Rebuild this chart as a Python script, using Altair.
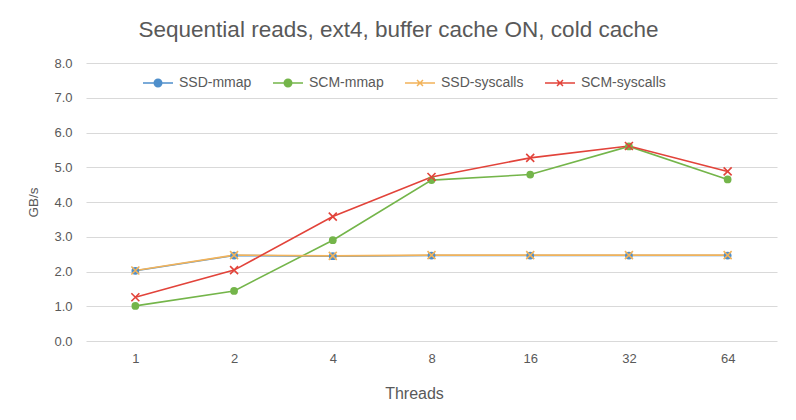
import altair as alt
import pandas as pd

threads = ["1", "2", "4", "8", "16", "32", "64"]
series_names = ["SSD-mmap", "SCM-mmap", "SSD-syscalls", "SCM-syscalls"]
ssd_mmap = [2.02, 2.46, 2.44, 2.46, 2.46, 2.46, 2.46]
scm_mmap = [1.01, 1.44, 2.90, 4.63, 4.79, 5.60, 4.65]
ssd_syscalls = [2.03, 2.47, 2.45, 2.47, 2.47, 2.47, 2.47]
scm_syscalls = [1.26, 2.04, 3.58, 4.72, 5.27, 5.61, 4.88]
colors = ["#4F8FCB", "#74B54A", "#F2B35A", "#E2433A"]
y_ticks = [0, 1, 2, 3, 4, 5, 6, 7, 8]

legend_paths = [
    "M-3,0H3M0.75,0A0.75,0.75,0,1,1,-0.75,0A0.75,0.75,0,1,1,0.75,0",
    "M-3,0H3M0.75,0A0.75,0.75,0,1,1,-0.75,0A0.75,0.75,0,1,1,0.75,0",
    "M-3,0H3M-0.6,-0.6L0.6,0.6M-0.6,0.6L0.6,-0.6",
    "M-3,0H3M-0.6,-0.6L0.6,0.6M-0.6,0.6L0.6,-0.6",
]

rows = []
for name, vals in zip(series_names, [ssd_mmap, scm_mmap, ssd_syscalls, scm_syscalls]):
    for i, (t, v) in enumerate(zip(threads, vals)):
        rows.append({"Threads": t, "value": v, "series": name, "idx": i})
df = pd.DataFrame(rows)

FONT = "Liberation Sans"
TXT = "#595959"

x = alt.X(
    "Threads:N",
    sort=threads,
    scale=alt.Scale(type="point", padding=0.5),
    axis=alt.Axis(
        title="Threads", labelAngle=0, domain=False, ticks=False, grid=False,
        labelPadding=11, titlePadding=20, labelFontSize=13, titleFontSize=16,
        labelColor=TXT, titleColor=TXT, labelFont=FONT, titleFont=FONT,
        titleFontWeight="normal", titleX=328,
    ),
)
y = alt.Y(
    "value:Q",
    scale=alt.Scale(domain=[0, 8], nice=False),
    axis=alt.Axis(
        title="GB/s", values=y_ticks, format=".1f", domain=False, ticks=False,
        grid=True, gridColor="#D9D9D9", gridWidth=1, labelPadding=14,
        titlePadding=13, labelFontSize=13, titleFontSize=13.5, labelColor=TXT,
        titleColor=TXT, labelFont=FONT, titleFont=FONT, titleFontWeight="normal",
    ),
)
# data-driven domain (sorted) so that this disabled legend is not merged with the real one
color = alt.Color("series:N", sort=series_names, scale=alt.Scale(range=colors), legend=None)

base = alt.Chart(df)

lines = base.mark_line(strokeWidth=1.6).encode(x=x, y=y, color=color, order=alt.Order("idx:Q"))

circles = base.transform_filter(
    alt.FieldOneOfPredicate(field="series", oneOf=["SSD-mmap", "SCM-mmap"])
).mark_point(filled=True, size=60, opacity=1, shape="circle").encode(x=x, y=y, color=color)

crosses = base.transform_filter(
    alt.FieldOneOfPredicate(field="series", oneOf=["SSD-syscalls", "SCM-syscalls"])
).mark_point(
    filled=False, size=64, opacity=1, strokeWidth=1.6, shape="M-1,-1L1,1M-1,1L1,-1"
).encode(x=x, y=y, color=color)

leg = alt.Legend(
    title=None, orient="none", legendX=65, legendY=13, direction="horizontal",
    symbolSize=100, symbolStrokeWidth=1.5, symbolOpacity=1, labelOffset=14,
    columnPadding=18, labelFontSize=14, labelColor=TXT, labelFont=FONT,
)
legend_layer = base.transform_filter("datum.value < 0").mark_point(
    filled=True, strokeWidth=1.5
).encode(
    x=x, y=y,
    fill=alt.Fill("series:N", scale=alt.Scale(domain=series_names, range=colors), legend=leg),
    stroke=alt.Stroke("series:N", scale=alt.Scale(domain=series_names, range=colors), legend=leg),
    shape=alt.Shape("series:N", scale=alt.Scale(domain=series_names, range=legend_paths), legend=leg),
)

chart = alt.layer(lines, circles, crosses, legend_layer).properties(
    width=691,
    height=278,
    autosize=alt.AutoSizeParams(type="none"),
    padding={"left": 78, "top": 55, "right": 11, "bottom": 71},
    view=alt.ViewBackground(stroke="#FFFFFF", strokeWidth=1),
    title=alt.TitleParams(
        "Sequential reads, ext4, buffer cache ON, cold cache",
        fontSize=22.5, font=FONT, color=TXT, fontWeight="normal",
        dx=-33, offset=16, anchor="middle",
    ),
).configure(
    background="white",
).configure_axis(
    domain=False
)

chart.save("out.html", embed_options={"renderer": "svg", "actions": False})
